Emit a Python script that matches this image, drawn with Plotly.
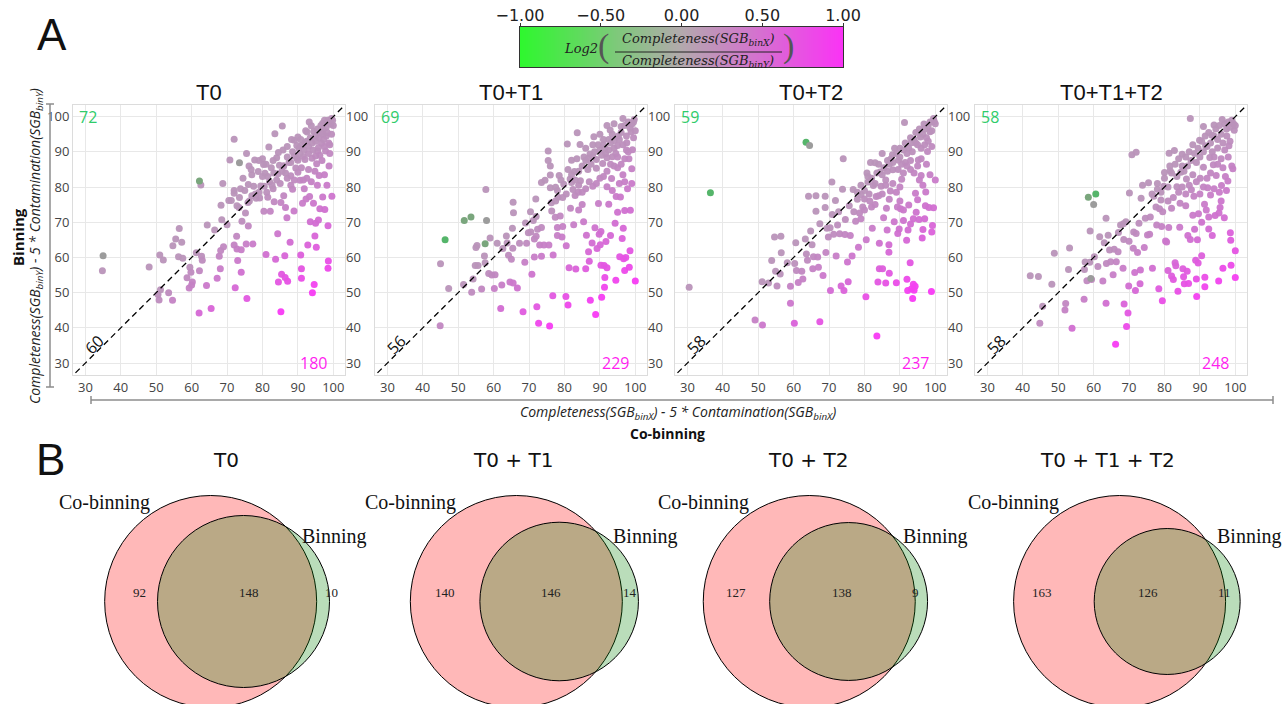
import math
import numpy as np
import plotly.graph_objects as go

W, H = 1284, 704

# ---------------- data ----------------
panel_titles = ["T0", "T0+T1", "T0+T2", "T0+T1+T2"]
diag_labels = ["60", "56", "58", "58"]
binning_better = ["72", "69", "59", "58"]
cobinning_better = ["180", "229", "237", "248"]
axis_ticks = [30, 40, 50, 60, 70, 80, 90, 100]
cbar_ticks = [-1.0, -0.5, 0.0, 0.5, 1.0]

t0_points = [
    (34.8,56.2),(48,57.3),(50.5,49.5),(50.8,47.9),(51.2,50.8),(52,59.3),(51,60.7),(54.6,47.8),(53.5,50),
    (54.7,63.3),(55.5,65.2),(56.5,68.2),(57.2,64.3),(56.3,60.2),(57.5,59.8),(58.7,54.2),(59.5,57.2),
    (59.3,51.3),(59.8,55.8),(60.2,53),(60,52.2),(61.3,61.3),(62.2,56.2),(62.1,44.2),(62.8,60.3),(63,59.2),
    (64.2,52),(64.4,69.2),(65.5,45.5),(66.5,67.8),(67.2,54.1),(67.8,60.3),(68.1,56.8),(68.2,62),(68.3,74.8),
    (68.5,70.7),(69,63),(68.8,81),(70,69.3),(70.5,76.2),(71.2,76.2),(70.8,87.7),(72,93.6),(72,79),(72,78.2),
    (72,63.5),(72.3,51.4),(72.7,66),(72.8,62.4),(73,59.1),(72.8,74.7),(73.4,74.2),(73.8,79.5),(74.2,70.3),
    (74,62.2),(74,55.8),(75,79),(75.5,89.5),(75.2,72.6),(75.4,63.8),(75.6,48.3),(75.9,75.6),(76.2,86),
    (76,68.9),(76,80.7),(77,83.5),(77.3,63.8),(77.5,80.2),(77.8,87.7),(78.2,76.8),(78.8,84.4),(79.2,76.9),
    (79.5,80.3),(80,88),(80.3,86.4),(80.4,73.1),(80.7,83.9),(81,60.8),(81.2,78.5),(81.5,77.1),(81.8,91.4),
    (82,81.5),(82.2,73.1),(82.5,85.5),(83,79.5),(83.3,75.8),(83.5,95.1),(83.7,59.5),(84,88.3),(84.3,66.7),
    (84.4,83.8),(84.5,53),(85,81),(85.2,75.6),(85.2,44.6),(85.4,55.2),(85.6,97.3),(85.9,86),(86,77.5),
    (86.3,60.5),(86.4,54.3),(86.5,74.2),(86.9,71.3),(87.1,53.2),(87.5,87),(87.8,64.3),(88,83.2),(88.5,79.4),
    (88.9,73.2),(89,93.3),(89.4,85.4),(89.7,88.2),(90,94.2),(90,87.6),(90.3,91),(90.6,81.9),(90.8,60.7),
    (91,56.8),(91,54.1),(91.3,75.4),(91.5,88.7),(91.8,79.5),(92,92.7),(92.3,76.6),(92.6,95.6),(92.8,63.5),
    (93,85),(93.3,77.3),(93.5,70.1),(93.8,97.4),(94,88.2),(94.1,50),(94.4,75.4),(94.6,52.3),(94.8,66.1),
    (95,69.7),(95,94.6),(95.2,62.9),(95.3,86.6),(95.6,90.2),(95.8,70.6),(96,83.3),(96.2,73.8),(96.5,95.5),
    (96.7,92.4),(97,77.2),(97,98.1),(97.2,96.5),(97.6,73.6),(97.8,90.2),(98,94.5),(98.5,56.9),(98.6,59),
    (98.5,69),(98.8,86),(99,92),(99.3,97.8),(99.6,77.4),(62.6,80.6),
    (86,86),(87,88.5),(88,87),(88.5,90),(89,88.8),(90.5,89.5),(91,91.8),(91.8,90.5),(92.5,93),(93,91.5),
    (93.5,94),(94,92.5),(94.5,95.8),(95,93),(95.5,96.5),(96,94),(96.5,97.5),(97,95),(97.5,99),(98,97),
    (98.5,99),(99,98.5),(99.5,99.5),(100,97.5),(99.8,99),(98.3,95.5),(97.5,91.5),(96.2,89),(95,88.8),
    (94.2,90.5),(93,89.5),(92,87.8),(91,85.5),(90,84.2),(89,82),(88,80.5),(87,82.5),(86.5,84),(85.5,84.5),
    (84.8,86.2),(84,82),(83.2,84),(82.7,80.5),(81.5,83),(80.5,80.2),(79,78.5),(78,78),(77,77.5),(76.3,76),
    (89.7,91.8),(90.8,93.5),(92.2,96),(93.2,98.5),(95.8,91.2),(97.3,93.5),(98.7,92.5),(99.5,95),(96.8,87.5),
    (94.8,84.5),(93.8,81.5),(92.5,82.5),(91.5,82),(97.5,83.5),(95.5,80.5),(98.2,80.5),(99,89.5),(85.8,90.5),
    (87,91.5),(88.2,93.5),(84.5,89.8),(83,87.5),(81,86.5),(80,83),(79,87.5),(76.8,85),(74.5,82.5),(73.5,77),
]
t0_special = [(35,60.5,"gray"),(62.2,81.7,"greengray"),(73.5,86.9,"gray")]

t01_points = [
    (44.9,40.6),(45,58.2),(47.3,51.2),(51.5,52.3),(53.8,50.1),(54.2,53.9),(54.8,57.7),(55,62.8),(55.3,63.4),
    (55.6,57.7),(56.6,51),(57.6,58.5),(57.4,60.4),(57.8,79.3),(58.6,55.4),(59,65.5),(59.5,55),(60.4,55.1),
    (60.2,51.2),(61,64),(62,45.5),(62.3,52.2),(62.6,62.5),(63.6,66.1),(63.8,64.1),(64.2,60.6),(64.6,53),
    (65.5,52.7),(65.3,68.3),(65.5,75.7),(65.6,72.7),(65.4,62.6),(65,59.5),(66.7,51.3),(67.3,64),(68.3,44.6),
    (68.8,58.6),(69,69.8),(69.3,64),(69.8,67),(70.4,73),(70.5,67.2),(70.8,55.2),(71.2,70.5),(71.5,65.2),
    (71.5,60.1),(71.9,76.6),(72,71.6),(72,66),(72.2,46),(72.4,68),(72.7,41.3),(73,63.5),(73.5,81.3),
    (73.5,68.5),(73.5,60.3),(74.2,63.5),(74.5,81.9),(75.4,90.2),(75.4,87.5),(75.6,63.5),(75.8,40.5),(76,86),
    (76,83.4),(76,79.8),(76.3,75.5),(76.4,73.2),(76.7,49.1),(76.8,60.7),(77.4,71.4),(77.5,79.9),(78,68.5),
    (78,66.2),(78,79),(78.2,77.1),(78.5,83.3),(78.8,71.8),(79.3,65.8),(79.5,68.8),(79.8,80.8),(80.4,48.9),
    (80.5,63.3),(80.8,92.2),(81,46.5),(81.3,57.1),(81.6,82.3),(81.7,74),(82,81.3),(82,87.6),(82.4,79.3),
    (82.6,69.3),(82.8,84.4),(83,77.6),(83.2,56.7),(83.6,95.4),(83.9,78.5),(84,73.5),(84.4,92.1),(84.5,81.8),
    (85,75),(85.5,88.5),(85.4,70.1),(86,56.8),(86.2,66.3),(86.6,85),(86.8,61.6),(87,58.9),(87.2,89.4),
    (87.3,47.8),(87.8,64.1),(88,88.6),(88.3,94.3),(88.6,68.4),(88.8,43.8),(89,85.3),(89.2,62.5),(89.6,75.3),
    (89.8,66.6),(90,90.5),(90.1,63.6),(90.3,67.4),(90.3,57.8),(90.5,48.7),(90.8,86.7),(91,92),(91.2,57.7),
    (91.3,51.5),(91.4,54.3),(91.6,89.5),(91.7,64.5),(92,57.1),(92,80.1),(92.5,93.5),(92.5,75.1),(92.9,96.2),
    (93,66.2),(93.3,82.4),(93.5,88.6),(94,91),(94.3,69.7),(94.5,53.5),(94.6,77.3),(95,72.8),(95,85.5),
    (95.2,94.5),(95.6,60.2),(95.8,77.2),(96,97.2),(96.3,65.4),(96.6,68.3),(96.7,59.6),(97,56.3),(97,73.3),
    (97.3,60),(97.6,92.6),(97.8,79.5),(98.3,57.2),(98.5,61.9),(98.6,73.4),(98.8,95.6),(99,85.2),(99.2,90.6),
    (99.7,99.2),(100,53.3),
    (84,84.5),(85,86),(86,87.5),(86.8,88.2),(87.5,86.5),(88.5,90),(89,87.8),(89.5,92),(90.5,89),(91,93.5),
    (91.5,91),(92,88.3),(92.5,90.5),(93,92.5),(93.5,95),(94,93.2),(94.5,89.5),(95,91.8),(95.5,93.5),(96,95.5),
    (96.5,92),(97,97.5),(97.5,94.5),(98,98.5),(98.5,96.8),(99,97.8),(99.5,98.5),(100,96),(99.5,94),(98,90),
    (97,88),(96,86.5),(95,88.5),(94,86),(93,86.5),(92,84.5),(91,83),(90,82.5),(89,81),(88,80.2),(87,81.5),
    (86,79.5),(85,78.5),(84,80.5),(83,82),(82,83.5),(80.5,78),(79.5,77),(79,82),(77.5,76),(81,85),(83.5,88),
    (86,91),(88,92),(90,95),(92,97.5),(94,98),(96.5,99.5),(97.5,90.5),(98.2,88),(96.5,83.5),(95.5,81),
    (93.5,79),(97,81.5),(99,81),
]
t01_special = [(46.3,65,"green"),(51.7,70.5,"greengray"),(53.6,71.5,"greengray"),(58,70.5,"gray"),(57.6,63.9,"greengray")]

t02_points = [
    (30.5,51.5),(49.1,42.2),(51.2,40.8),(51.1,53.1),(52.9,52.7),(53.8,59.1),(54.6,65.8),(54.9,56.1),(55.3,51.9),
    (56.2,55.3),(56.5,61.3),(56.4,66),(58.2,58.5),(59.1,47),(59.1,51.8),(60.2,41.3),(60.3,58.3),(60.6,64.2),
    (60.8,56.3),(61.3,52.9),(62.3,56.1),(62.6,53.9),(63.3,65.2),(63.6,61),(63.9,59.2),(64.2,77.4),(64.8,67.5),
    (65.2,63.6),(65.4,56.8),(65.6,60.2),(66.3,73.1),(66.3,77.5),(66.8,60.1),(67,57.2),(67.4,41.7),(67.4,69.6),
    (68.3,54.9),(68.9,77.4),(68.9,74.2),(69.1,61.4),(69.4,68.3),(69.8,65.8),(70.3,68.4),(70.4,50.6),(70.8,81.4),
    (70.9,72.2),(71.3,66.6),(71.8,76.2),(72,60.4),(72.4,69.2),(72.7,73),(73,66.7),(73.4,51.9),(73.8,79.4),
    (74,88),(74.2,50.6),(74.5,66.5),(74.6,70.8),(75.2,58.7),(75.4,53.1),(75.7,74.7),(76,66.2),(76.5,60.4),
    (76.8,79.3),(77.5,70.3),(78,76.5),(78.3,62.9),(78.6,72.6),(79,77.9),(79.5,74.3),(80,76.6),(80.4,48.8),
    (80.5,65),(80.7,84),(81,81.4),(81.3,78),(81.7,87),(82,74.3),(82.2,68.3),(82.5,80.4),(83,86.9),(83.3,77.3),
    (83.5,37.7),(83.8,53),(84.2,56.8),(84.2,64),(84.4,84.3),(84.7,80.2),(85,89.5),(85.1,56.8),(85.4,71.3),
    (86,52.7),(86.2,74),(86.4,67.8),(86.5,87.5),(86.9,61.5),(86.9,63.6),(87,55.5),(87.3,78.9),(87.9,89.2),
    (88,84.9),(88.4,70.1),(89,52.8),(89.3,74.3),(89.4,66.8),(89.6,87.6),(89.8,68.1),(90,91),(90.2,73.8),
    (90.5,82.2),(91,73.5),(91.3,98.3),(91.5,87),(91.9,64.9),(92,53.8),(92.2,50.6),(92.3,67.8),(92.5,74.9),
    (92.9,58.5),(93,85),(93.2,92.6),(93.3,51.1),(93.6,48.3),(93.8,71),(93.8,52.4),(94,50.7),(94.3,51.8),
    (94.4,78.2),(94.5,92.5),(94.6,72.8),(95,76.4),(95.2,87.7),(95.4,70.8),(95.8,94.2),(96,83.3),(96.3,65.5),
    (96.5,67.9),(96.8,97.9),(97.2,74.7),(97.3,78.6),(97.8,90.1),(98.2,74.2),(98.5,95.7),(98.9,50.3),(99,67.2),
    (99.2,69.1),(99.5,74.1),(99.7,98.6),(100,82),
    (78,78.5),(79,80.5),(80,79),(81,83),(82,82.5),(83,81),(83.5,84),(84,86.5),(85,83.5),(85.5,85.5),(86,82),
    (86.5,84.5),(87,86.5),(87.5,88),(88,87),(88.5,91),(89,89.5),(89.5,85),(90,88.5),(90.5,86.5),(91,90.5),
    (91.5,92.5),(92,89.5),(92.5,91),(93,94),(93.5,90),(94,93.5),(94.5,95.5),(95,92),(95.5,96.5),(96,91),
    (96.5,95),(97,96.5),(97.5,94),(98,97.5),(98.5,98.5),(99,96),(99.5,99.5),(100,98),(97,92),(98,93),
    (99,91.5),(96,88),(95,86),(94,84),(93,87.5),(92,86),(91,84),(90,80),(89,78.5),(88,81),(87,76.5),(85,78),
    (86,80.5),(84,77.5),(83,75),(81.5,76),(80,73.5),(79,71),(77,73),(97.5,86.5),(98.5,83.5),(96.5,80.5),
    (95.5,82),(97,71),(93,69.5),(91,70.5),(90,76),
]
t02_special = [(36.5,78.4,"green"),(63.5,92.7,"green"),(64.5,91.8,"gray")]

t012_points = [
    (42.1,54.8),(44.4,54.6),(44.8,41.3),(45.6,46.1),(48.2,52.4),(48.9,61.2),(51.9,45.1),(52.1,46.9),(52.9,56.6),
    (53.2,62.7),(53.9,39.9),(57.3,48.1),(57.4,56.6),(57.6,58.7),(58.1,53.4),(58.9,58.6),(59,67.5),(59.4,53.7),
    (60.2,60.2),(61.2,57.4),(61.7,65.9),(62.6,53.3),(63,64.2),(63.5,47),(63.5,71.1),(63.6,58.3),(64.1,66.3),
    (64.5,62.1),(64.8,58.8),(65.5,55.1),(65.8,62.3),(66.2,35.3),(66.4,58.8),(66.9,61.6),(67,67.1),(67.6,69.2),
    (68.4,69.6),(68.5,65.1),(68.3,56.9),(68.6,46.8),(69.1,70.1),(69.3,40.4),(69.7,44.2),(69.9,51.9),(70,64.6),
    (70.1,78.3),(70.8,89.2),(71.3,67.2),(71.2,62.6),(71.6,55.7),(71.8,50.6),(72,89.9),(72,66.8),(72.4,61.4),
    (72.8,69.7),(73.1,52.5),(73.2,56.4),(73.4,76.8),(73.8,80.5),(74.3,62.8),(74.6,71.1),(75.2,66.4),(75.5,81.2),
    (75.8,66.6),(76,71.5),(76.6,56.9),(77,77.4),(77.6,74.3),(77.8,69.2),(78,79.4),(78.4,51.1),(78.6,73.8),
    (79,76.3),(79.2,68.8),(79.4,47.7),(79.8,80.2),(80,84.1),(80.3,64.7),(80.6,64.4),(81,56.3),(81.2,68.5),
    (81.3,89.6),(81.6,84.6),(82,74),(82,54.7),(82.5,53.7),(82.8,90.4),(83,58.5),(83.2,57.6),(83.5,80.1),
    (83.8,50.4),(84.3,68.6),(84.4,75.4),(84.6,84.2),(85,89.3),(85.2,56.8),(85.4,54.5),(85.6,52.5),(86,74.7),
    (86.2,82.3),(86.4,56.1),(86.6,66.2),(86.8,52.6),(87.3,99.5),(87.3,65.1),(87.6,79.2),(88,72),(88.3,77.4),
    (88.8,59.2),(89,53.9),(89.1,48.9),(89.3,65),(89.5,58.4),(89.6,72.4),(89.9,93.3),(90.1,82.5),(90.5,60.5),
    (91,97.2),(91,85.6),(91.3,75.1),(91.4,54.4),(91.4,51.7),(91.6,91.7),(91.8,73.5),(92.2,79.8),(92.5,68.1),
    (92.8,88.4),(93,77.7),(93.4,94.7),(93.5,66.2),(93.8,86.3),(94,97.6),(94.3,71.9),(94.6,83.3),(95,91.1),
    (95.3,53.3),(95.4,72.6),(95.7,74.2),(96.1,80.4),(96.3,99.2),(96.5,56.9),(96.9,71.3),(97.2,83),(97.6,94.5),
    (97.9,81.7),(98.2,91.7),(98.6,67),(98.7,64.9),(98.8,57.8),(99.3,85.2),(99.7,96.1),(100,61.9),(100,54.3),
    (76.5,78),(78,81),(79,78.5),(80,82.5),(81,80),(81.5,86),(82,84),(83,86.5),(83.5,83),(84,88),(85,86),
    (85.5,84.5),(86,88.5),(86.5,86),(87,90),(87.5,87.5),(88,92),(88.5,89.5),(89,87),(89.5,91),(90,88.5),
    (90.5,93),(91,90),(91.5,94.5),(92,91.5),(92.5,95.5),(93,92.5),(93.5,90),(94,94.5),(94.5,96.5),(95,93.5),
    (95.5,97.5),(96,95),(96.5,92.5),(97,98),(97.5,96.5),(98,98.5),(98.5,97),(99,99),(99.5,98),(100,97.5),
    (97,90.5),(96,88),(95,86.5),(94,88.5),(93,84),(92,82.5),(91,80),(90,78),(89,81.5),(88,83.5),(87,80.5),
    (86,78),(85,80),(84,78.5),(82.5,77),(81,76),(79.5,73),(96.5,85.5),(98,88.5),(99,86),(97.5,79),(95.5,78.5),
    (94,79.5),(92.5,71.5),(90.5,70),(88.5,68),(96,76),(98.5,93),
]
t012_special = [(58.5,77.1,"greengray"),(60.6,78,"green"),(60,75,"gray"),(59.2,54,"gray")]

panel_points = [t0_points, t01_points, t02_points, t012_points]
panel_special = [t0_special, t01_special, t02_special, t012_special]

venn_titles = ["T0", "T0 + T1", "T0 + T2", "T0 + T1 + T2"]
cobin_only = [92, 140, 127, 163]
shared = [148, 146, 138, 126]
bin_only = [10, 14, 9, 11]

# ---------------- style / layout ----------------
def px(x):
    return x / W

def py(y):
    return 1 - y / H

domains_px = [(73, 345), (375, 647), (675, 947), (975, 1247)]
plot_top, plot_bot = 105, 375
XR = [26.5, 103.3]
YR = [26.6, 103.3]
diag_ends = [27.2, 103.8]

marker_scale = [[0, "#b994b9"], [0.5, "#d36bd3"], [1, "#f83af4"]]
cbar_scale = [[0, "#2ef82e"], [0.5, "#b3a9ad"], [1, "#fa33f5"]]
special_col = {"green": "#55b56a", "greengray": "#7aa67d", "gray": "#9c9c9c"}
GREEN_TXT = "#2fcc6a"
MAG_TXT = "#ff1ff0"

fig = go.Figure()
layout = dict(
    template="none",
    width=W, height=H, margin=dict(l=0, r=0, t=0, b=0, pad=0, autoexpand=False),
    paper_bgcolor="white", plot_bgcolor="rgba(0,0,0,0)", showlegend=False,
)
annotations = []
shapes = []

tickfont = dict(family="Open Sans", size=13, color="#444")

for i in range(4):
    n = i + 1
    xa = "x" if n == 1 else f"x{n}"
    ya = "y" if n == 1 else f"y{n}"
    pts = panel_points[i]
    xs = [p[0] for p in pts]
    ys = [p[1] for p in pts]
    cval = [min(1.0, max(0.0, math.log2(x / y)) * 1.08) for x, y in pts]
    fig.add_trace(go.Scatter(
        x=xs, y=ys, mode="markers", xaxis=xa, yaxis=ya, hoverinfo="skip",
        marker=dict(size=7, color=cval, colorscale=marker_scale, cmin=0, cmax=1,
                    line=dict(width=0), opacity=0.95),
    ))
    sp = panel_special[i]
    fig.add_trace(go.Scatter(
        x=[s[0] for s in sp], y=[s[1] for s in sp], mode="markers", xaxis=xa, yaxis=ya,
        hoverinfo="skip",
        marker=dict(size=7, color=[special_col[s[2]] for s in sp], line=dict(width=0)),
    ))
    fig.add_trace(go.Scatter(
        x=diag_ends, y=diag_ends, mode="lines", xaxis=xa, yaxis=ya, hoverinfo="skip",
        line=dict(color="black", width=1.3, dash="6px,4px"),
    ))
    x0, x1 = domains_px[i]
    layout[f"xaxis{'' if n == 1 else n}"] = dict(
        domain=[px(x0), px(x1)], range=XR, anchor=ya, tickmode="array", tickvals=axis_ticks,
        showgrid=True, gridcolor="#e8e8e8", gridwidth=1, zeroline=False, automargin=False,
        showline=True, linecolor="#dcdcdc", linewidth=1, mirror=True, ticks="",
        tickfont=tickfont, fixedrange=True,
    )
    layout[f"yaxis{'' if n == 1 else n}"] = dict(
        domain=[py(plot_bot), py(plot_top)], range=YR, anchor=xa, tickmode="array",
        tickvals=axis_ticks, showgrid=True, gridcolor="#e8e8e8", gridwidth=1, zeroline=False,
        showline=True, linecolor="#dcdcdc", linewidth=1, mirror=True, ticks="", automargin=False,
        tickfont=tickfont, showticklabels=(n == 1), fixedrange=True,
    )
    # right-side tick labels for panels 1-3
    if n <= 3:
        ra = f"y{4 + n}"
        fig.add_trace(go.Scatter(x=[None], y=[None], xaxis=xa, yaxis=ra, hoverinfo="skip"))
        layout[f"yaxis{4 + n}"] = dict(
            overlaying=ya, anchor=xa, side="right", range=YR, tickmode="array",
            tickvals=axis_ticks, showgrid=False, zeroline=False, showline=False, ticks="",
            tickfont=tickfont, fixedrange=True, automargin=False,
        )
    # annotations in panel
    annotations.append(dict(text=panel_titles[i], x=(px(x0) + px(x1)) / 2, y=py(92.5),
                            xref="paper", yref="paper", showarrow=False, xanchor="center",
                            yanchor="middle", font=dict(family="Liberation Sans", size=22, color="#111")))
    annotations.append(dict(text=binning_better[i], x=27.6, y=100, xref=xa, yref=ya,
                            showarrow=False, xanchor="left", yanchor="middle",
                            font=dict(family="Open Sans", size=16, color=GREEN_TXT)))
    annotations.append(dict(text=cobinning_better[i], x=98.8, y=30, xref=xa, yref=ya,
                            showarrow=False, xanchor="right", yanchor="middle",
                            font=dict(family="Open Sans", size=16, color=MAG_TXT)))
    annotations.append(dict(text=diag_labels[i], x=32.3, y=35.2, xref=xa, yref=ya,
                            showarrow=False, textangle=-45, xanchor="center", yanchor="middle",
                            font=dict(family="Open Sans", size=16, color="#111")))

# ----- colour bar (heatmap strip with top axis) -----
grad = np.linspace(-1, 1, 301)
fig.add_trace(go.Heatmap(z=[grad], x=grad, y=[0], colorscale=cbar_scale, zmin=-1, zmax=1,
                         showscale=False, xaxis="x8", yaxis="y8", hoverinfo="skip"))
layout["xaxis8"] = dict(domain=[px(520), px(843)], range=[-1, 1], anchor="y8", side="top",
                        tickmode="array", tickvals=cbar_ticks, tickformat=".2f", ticks="outside",
                        ticklen=3, tickcolor="#333", showline=True, linecolor="#333", linewidth=1,
                        mirror=True, showgrid=False, zeroline=False, automargin=False,
                        ticklabelstandoff=-4,
                        tickfont=dict(family="DejaVu Sans", size=16, color="#222"), fixedrange=True)
layout["yaxis8"] = dict(domain=[py(67), py(27)], range=[-0.5, 0.5], anchor="x8", showticklabels=False,
                        ticks="", showline=True, linecolor="#333", linewidth=1, mirror=True,
                        showgrid=False, zeroline=False, fixedrange=True, automargin=False)
mfont = dict(family="DejaVu Serif", size=13, color="#222")
pfont = dict(family="Liberation Serif", size=34, color="#555")
annotations += [
    dict(text="<i>Log2</i>", x=px(581), y=py(49), xref="paper", yref="paper", showarrow=False,
         font=mfont, xanchor="center", yanchor="middle"),
    dict(text="(", x=px(603), y=py(46), xref="paper", yref="paper", showarrow=False,
         font=pfont, xanchor="center", yanchor="middle"),
    dict(text=")", x=px(788), y=py(46), xref="paper", yref="paper", showarrow=False,
         font=pfont, xanchor="center", yanchor="middle"),
    dict(text="<i>Completeness(SGB<sub>binX</sub>)</i>", x=px(698), y=py(40), xref="paper", yref="paper",
         showarrow=False, font=mfont, xanchor="center", yanchor="middle"),
    dict(text="<i>Completeness(SGB<sub>binY</sub>)</i>", x=px(698), y=py(61), xref="paper", yref="paper",
         showarrow=False, font=mfont, xanchor="center", yanchor="middle"),
]
shapes.append(dict(type="line", xref="paper", yref="paper", x0=px(615), x1=px(782), y0=py(52), y1=py(52),
                   line=dict(color="#222", width=1)))

# ----- panel letters & shared axis titles -----
annotations += [
    dict(text="A", x=px(52), y=py(34), xref="paper", yref="paper", showarrow=False,
         font=dict(family="Liberation Sans", size=44, color="#111"), xanchor="center", yanchor="middle"),
    dict(text="B", x=px(50), y=py(459), xref="paper", yref="paper", showarrow=False,
         font=dict(family="Liberation Sans", size=44, color="#111"), xanchor="center", yanchor="middle"),
    dict(text="<b>Binning</b>", x=px(18), y=py(237), xref="paper", yref="paper", showarrow=False,
         textangle=-90, font=dict(family="Open Sans", size=15, color="#111"), xanchor="center", yanchor="middle"),
    dict(text="<i>Completeness(SGB<sub>binY</sub>) - 5 * Contamination(SGB<sub>binY</sub>)</i>",
         x=px(36), y=py(246), xref="paper", yref="paper", showarrow=False, textangle=-90,
         font=dict(family="Open Sans", size=14, color="#222"), xanchor="center", yanchor="middle"),
    dict(text="<i>Completeness(SGB<sub>binX</sub>) - 5 * Contamination(SGB<sub>binX</sub>)</i>",
         x=px(678), y=py(412), xref="paper", yref="paper", showarrow=False,
         font=dict(family="Open Sans", size=14, color="#222"), xanchor="center", yanchor="middle"),
    dict(text="<b>Co-binning</b>", x=px(668), y=py(433), xref="paper", yref="paper", showarrow=False,
         font=dict(family="Open Sans", size=14, color="#111"), xanchor="center", yanchor="middle"),
]
br = dict(color="#8c8c8c", width=1.5)
shapes += [
    dict(type="line", xref="paper", yref="paper", x0=px(50), x1=px(50), y0=py(104), y1=py(387), line=br),
    dict(type="line", xref="paper", yref="paper", x0=px(46), x1=px(54), y0=py(104), y1=py(104), line=br),
    dict(type="line", xref="paper", yref="paper", x0=px(46), x1=px(54), y0=py(387), y1=py(387), line=br),
    dict(type="line", xref="paper", yref="paper", x0=px(91), x1=px(1273), y0=py(400), y1=py(400), line=br),
    dict(type="line", xref="paper", yref="paper", x0=px(91), x1=px(91), y0=py(396), y1=py(404), line=br),
    dict(type="line", xref="paper", yref="paper", x0=px(1273), x1=px(1273), y0=py(396), y1=py(404), line=br),
]

# ----- Venn diagrams (areas proportional to counts) -----
def lens_area(r1, r2, d):
    if d >= r1 + r2:
        return 0.0
    if d <= abs(r1 - r2):
        return math.pi * min(r1, r2) ** 2
    a1 = r1 * r1 * math.acos((d * d + r1 * r1 - r2 * r2) / (2 * d * r1))
    a2 = r2 * r2 * math.acos((d * d + r2 * r2 - r1 * r1) / (2 * d * r2))
    a3 = 0.5 * math.sqrt((-d + r1 + r2) * (d + r1 - r2) * (d - r1 + r2) * (d + r1 + r2))
    return a1 + a2 - a3

def solve_d(r1, r2, target):
    lo, hi = abs(r1 - r2), r1 + r2
    for _ in range(200):
        mid = (lo + hi) / 2
        if lens_area(r1, r2, mid) > target:
            lo = mid
        else:
            hi = mid
    return (lo + hi) / 2

venn_com_x = [223.7, 531.7, 823.3, 1134.9]
venn_cy = 601.5
venn_title_x = [226, 513, 808, 1107]
R_BIG = 106
serif = "Liberation Serif"

for i in range(4):
    na = cobin_only[i] + shared[i]
    nb = bin_only[i] + shared[i]
    r1 = R_BIG
    r2 = R_BIG * math.sqrt(nb / na)
    unit = math.pi * r1 * r1 / na
    d = solve_d(r1, r2, unit * shared[i])
    cx1 = venn_com_x[i] - d * nb / (na + nb)
    cx2 = cx1 + d
    cy = venn_cy
    shapes.append(dict(type="circle", xref="paper", yref="paper",
                       x0=px(cx1 - r1), x1=px(cx1 + r1), y0=py(cy + r1), y1=py(cy - r1),
                       fillcolor="rgba(255,0,0,0.28)", line=dict(color="black", width=1)))
    shapes.append(dict(type="circle", xref="paper", yref="paper",
                       x0=px(cx2 - r2), x1=px(cx2 + r2), y0=py(cy + r2), y1=py(cy - r2),
                       fillcolor="rgba(0,128,0,0.27)", line=dict(color="black", width=1)))
    nfont = dict(family=serif, size=13, color="#222")
    annotations += [
        dict(text=str(cobin_only[i]), x=px(((cx1 - r1) + (cx2 - r2)) / 2), y=py(cy),
             xref="paper", yref="paper", showarrow=False, font=nfont),
        dict(text=str(shared[i]), x=px(((cx2 - r2) + (cx1 + r1)) / 2), y=py(cy),
             xref="paper", yref="paper", showarrow=False, font=nfont),
        dict(text=str(bin_only[i]), x=px(((cx1 + r1) + (cx2 + r2)) / 2), y=py(cy),
             xref="paper", yref="paper", showarrow=False, font=nfont),
        dict(text="Co-binning", x=px(cx1 - 0.55 * r1), y=py(cy - 0.93 * r1), xref="paper", yref="paper",
             showarrow=False, xanchor="right", yanchor="middle",
             font=dict(family=serif, size=20, color="#111")),
        dict(text="Binning", x=px(cx2 + 0.66 * r2), y=py(cy - 65), xref="paper", yref="paper",
             showarrow=False, xanchor="left", yanchor="middle",
             font=dict(family=serif, size=20, color="#111")),
        dict(text=venn_titles[i], x=px(venn_title_x[i]), y=py(460), xref="paper", yref="paper",
             showarrow=False, xanchor="center", yanchor="middle",
             font=dict(family="DejaVu Sans", size=20, color="#111")),
    ]

layout["annotations"] = annotations
layout["shapes"] = shapes
fig.update_layout(**layout)
fig.write_html("out.html")
